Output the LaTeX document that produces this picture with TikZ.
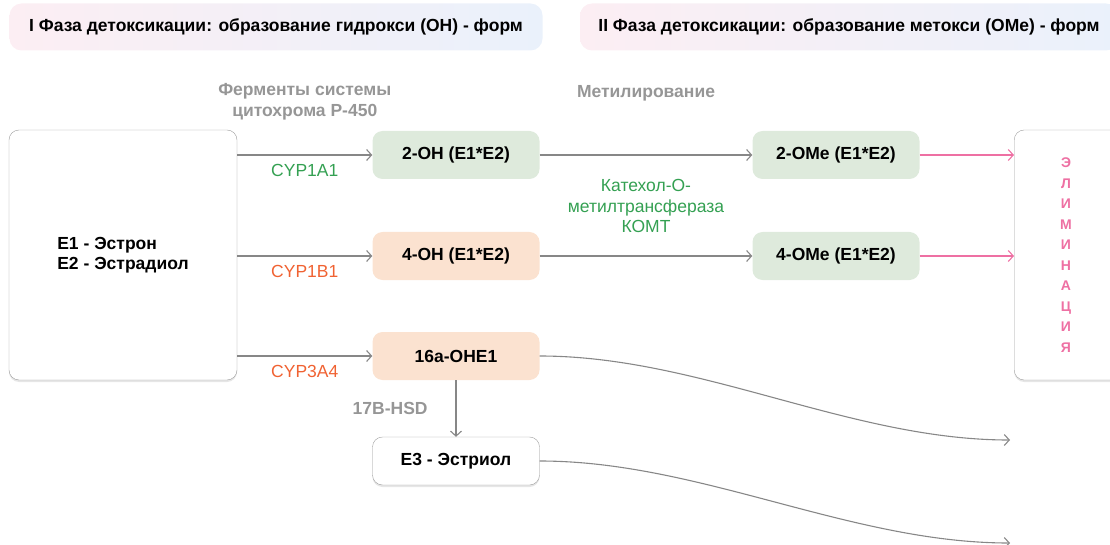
\documentclass[tikz,border=0pt]{standalone}
\usepackage{fontspec}
\setmainfont{Liberation Sans}
\usepackage{xcolor}
\definecolor{colorGreenBox}{RGB}{222,234,220}
\definecolor{colorPeachBox}{RGB}{251,226,208}
\definecolor{colorArrow}{RGB}{135,135,135}
\definecolor{colorElim}{RGB}{238,112,163}
\definecolor{colorCypGreen}{RGB}{52,160,82}
\definecolor{colorCypOrange}{RGB}{240,98,50}
\definecolor{colorNote}{RGB}{150,150,150}
\definecolor{colorHeadL}{RGB}{252,238,243}
\definecolor{colorHeadR}{RGB}{234,241,251}
\usepackage{tikz}
\usetikzlibrary{arrows, arrows.meta, positioning, shadows}
\tikzset{
  phase/.style={rounded corners=12pt, left color=colorHeadL, right color=colorHeadR, minimum height=47pt, font=\bfseries},
  metab/.style={rounded corners=10pt, minimum width=167pt, minimum height=48pt, font=\bfseries},
  whitebox/.style={draw=colorArrow!80, fill=white, rounded corners=10pt, drop shadow={opacity=0.2, shadow xshift=0pt, shadow yshift=-2pt}},
  cyp/.style={yshift=-15pt},
  note/.style={text=colorNote, font=\bfseries, align=center},
  flow/.style={->, colorArrow, line width=1.1pt},
}

\begin{document}
\fontsize{17.5}{20.5}\selectfont
\begin{tikzpicture}[x=1pt, y=-1pt, >={Straight Barb[length=5pt, width=11pt]}, node distance=380pt]
\useasboundingbox (0,0) rectangle (1110,545);
% phases
\node[phase, minimum width=533pt] (ph1) at (276,27) {I Фаза детоксикации: образование гидрокси (ОН) - форм};
\node[phase, minimum width=538pt] (ph2) at (849,27) {II Фаза детоксикации: образование метокси (ОМе) - форм};
% source and metabolites
\node[whitebox, minimum width=228pt, minimum height=250pt, align=left, font=\bfseries] (src) at (123,255) {E1 - Эстрон\\E2 - Эстрадиол};
\node[metab, fill=colorGreenBox] (oh2) at (456,155) {2-OH (E1*E2)};
\node[metab, fill=colorPeachBox] (oh4) at (456,256) {4-OH (E1*E2)};
\node[metab, fill=colorPeachBox] (ohe16) at (456,356) {16a-OHE1};
\node[metab, whitebox] (e3) at (456,461) {E3 - Эстриол};
\node[metab, fill=colorGreenBox, right of=oh2] (ome2) {2-OMe (E1*E2)};
\node[metab, fill=colorGreenBox, right of=oh4] (ome4) {4-OMe (E1*E2)};
\node[whitebox, minimum width=130pt, minimum height=250pt, anchor=west] (elim) at (1014,255) {};
\node[text=colorElim, align=center, font=\fontsize{14}{20.5}\selectfont\bfseries] (elimtext) at (1066,255) {Э\\Л\\И\\М\\И\\Н\\А\\Ц\\И\\Я};
\coordinate (endA) at (1010,440);
\coordinate (endB) at (1010,543);
% phase I
\draw[flow] (src.east |- oh2) -- node[cyp, text=colorCypGreen]{CYP1A1} node[note, yshift=53pt]{Ферменты системы\\цитохрома P-450} (oh2);
\draw[flow] (src.east |- oh4) -- node[cyp, text=colorCypOrange]{CYP1B1} (oh4);
\draw[flow] (src.east |- ohe16) -- node[cyp, text=colorCypOrange]{CYP3A4} (ohe16);
\draw[flow] (ohe16) -- node[note, left=22pt]{17B-HSD} (e3);
% phase II
\draw[flow] (oh2) -- node[note, yshift=62pt]{Метилирование} node[text=colorCypGreen, align=center, yshift=-51pt]{Катехол-О-\\метилтрансфераза\\КОМТ} (ome2);
\draw[flow] (oh4) -- (ome4);
\draw[->, colorElim, line width=1.1pt] (ome2) -- (elim.west |- ome2);
\draw[->, colorElim, line width=1.1pt] (ome4) -- (elim.west |- ome4);
\draw[flow] (ohe16.east) .. controls (700,356) and (850,440) .. (endA);
\draw[flow] (e3.east) .. controls (700,461) and (850,543) .. (endB);
\end{tikzpicture}
\end{document}
